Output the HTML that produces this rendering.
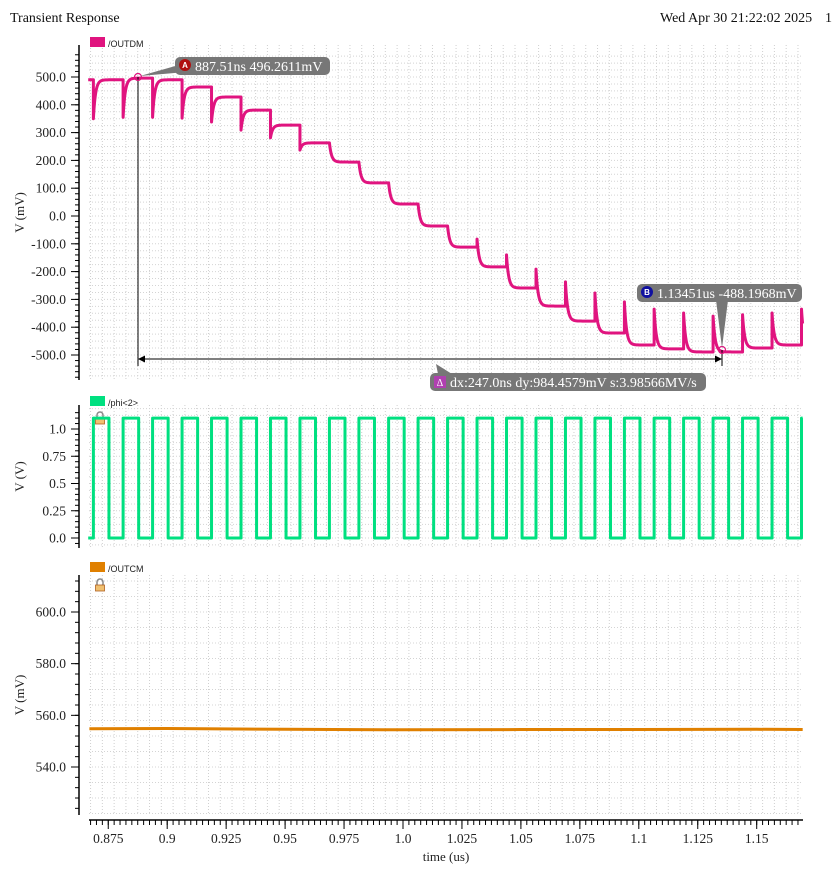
<!DOCTYPE html>
<html><head><meta charset="utf-8"><style>
html,body{margin:0;padding:0;background:#fff;}
svg{display:block;font-family:"Liberation Serif",serif;}
.lg{font-family:"Liberation Sans",sans-serif;font-size:9px;fill:#222;}
.tk{font-size:13.5px;fill:#222;}
</style></head><body>
<svg id="chart" width="835" height="869" viewBox="0 0 835 869" xmlns="http://www.w3.org/2000/svg">
<text x="10" y="22" font-size="14" fill="#111">Transient Response</text>
<text x="660" y="22" font-size="14" fill="#111">Wed Apr 30 21:22:02 2025</text>
<text x="825" y="22" font-size="14" fill="#111">1</text>
<g id="grid"></g>
<g id="axes"></g>
<g id="series"></g>
<g id="cursors"></g>
</svg>
<script>
// ---- data ----
const eventTimes = [0.8687,0.8813,0.8938,0.9063,0.9188,0.9313,0.9438,0.9563,0.9688,0.9813,0.9939,1.0064,1.0189,1.0314,1.0439,1.0564,1.0689,1.0814,1.0939,1.1065,1.1190,1.1315,1.1440,1.1565,1.1690];
const outdmStart = 490;
const outdmLevels = [490,496,490,464,428,381,327,263,194,119,43,-36,-112,-183,-259,-324,-378,-421,-464,-478,-489,-489,-475,-464,-464];
const outdmSpikes = [350,355,355,352,338,309,281,237,263,194,119,43,-36,-83,-140,-191,-237,-277,-309,-335,-349,-360,-355,-349,-335];
const phiHigh = 1.1, phiLow = 0.0, phiWidth = 0.0066;
const outcmTimes = [0.867,0.9,0.95,1.0,1.05,1.1,1.15,1.17];
const outcmValues = [554.8,554.9,554.6,554.4,554.5,554.5,554.6,554.5];
const xTicks = [0.875,0.9,0.925,0.95,0.975,1.0,1.025,1.05,1.075,1.1,1.125,1.15];
const xTickLabels = ["0.875","0.9","0.925","0.95","0.975","1.0","1.025","1.05","1.075","1.1","1.125","1.15"];
const topTicks = [500,400,300,200,100,0,-100,-200,-300,-400,-500];
const topTickLabels = ["500.0","400.0","300.0","200.0","100.0","0.0","-100.0","-200.0","-300.0","-400.0","-500.0"];
const midTicks = [1.0,0.75,0.5,0.25,0.0];
const midTickLabels = ["1.0","0.75","0.5","0.25","0.0"];
const botTicks = [600,580,560,540];
const botTickLabels = ["600.0","580.0","560.0","540.0"];

const NS="http://www.w3.org/2000/svg";
const X0=79, X1=803, TMIN=0.8665, TMAX=1.1695;
const xs = t => 403 + (t-1.0)*2358;
const yTop = v => 216 - v*0.278;
const yMid = v => 538 - v*109;
const yBot = v => 767 - (v-540)*2.5835;
function mk(tag, attrs, parent){const e=document.createElementNS(NS,tag);for(const k in attrs)e.setAttribute(k,attrs[k]);parent.appendChild(e);return e;}
const grid=document.getElementById('grid'), axes=document.getElementById('axes'), ser=document.getElementById('series'), cur=document.getElementById('cursors');

const panels=[
 {top:45,bot:380,map:yTop,ticks:topTicks,labels:topTickLabels,minor:20,gstep:25,vmin:-620,vmax:580,title:"V (mV)",name:"outdm"},
 {top:405,bot:548,map:yMid,ticks:midTicks,labels:midTickLabels,minor:0.05,gstep:0.0625,vmin:-0.1,vmax:1.2,title:"V (V)",name:"phi"},
 {top:575,bot:815,map:yBot,ticks:botTicks,labels:botTickLabels,minor:4,gstep:6,vmin:522,vmax:616,title:"V (mV)",name:"outcm"}
];
panels.forEach(p=>{
  const g=mk('g',{},grid);
  
  
  for(let t=0.8675;t<TMAX;t+=0.005){const x=xs(t);mk('line',{x1:x,x2:x,y1:p.top,y2:p.bot,stroke:'#cfcfcf','stroke-width':1,'stroke-dasharray':'1,2'},g);}
  for(let v=Math.ceil(p.vmin/p.gstep)*p.gstep;v<=p.vmax;v+=p.gstep){const y=p.map(v);if(y<p.top||y>p.bot)continue;mk('line',{x1:X0+10,x2:X1,y1:y,y2:y,stroke:'#d4d4d4','stroke-width':1,'stroke-dasharray':'1,2'},g);}
  const a=mk('g',{},axes);
  
  
  mk('line',{x1:X0,x2:X0,y1:p.top,y2:p.bot,stroke:'#000','stroke-width':1.5},a);
  for(let v=Math.ceil(p.vmin/p.minor)*p.minor;v<=p.vmax;v+=p.minor){const y=p.map(v);if(y<p.top||y>p.bot)continue;mk('line',{x1:X0-4,x2:X0,y1:y,y2:y,stroke:'#000','stroke-width':1},a);}
  p.ticks.forEach((v,i)=>{const y=p.map(v);mk('line',{x1:X0-8,x2:X0,y1:y,y2:y,stroke:'#000','stroke-width':1},a);
    const t=mk('text',{x:X0-13,y:y+4.5,'text-anchor':'end',class:'tk'},a);t.textContent=p.labels[i];});
  const tt=mk('text',{x:0,y:0,transform:`translate(24,${(p.top+p.bot)/2}) rotate(-90)`,'text-anchor':'middle','font-size':13,fill:'#222'},a);
  tt.textContent=p.title;
  
  
});
// x axis
const xa=mk('g',{},axes);


mk('line',{x1:89,x2:X1,y1:820,y2:820,stroke:'#000','stroke-width':1.5},xa);
for(let t=0.8675;t<TMAX;t+=0.0025){const x=xs(t);mk('line',{x1:x,x2:x,y1:820,y2:825,stroke:'#000','stroke-width':1},xa);}
xTicks.forEach((t,i)=>{const x=xs(t);mk('line',{x1:x,x2:x,y1:820,y2:829,stroke:'#000','stroke-width':1},xa);
  const tx=mk('text',{x:x,y:843,'text-anchor':'middle',class:'tk'},xa);tx.textContent=xTickLabels[i];});
const xt=mk('text',{x:446,y:861,'text-anchor':'middle','font-size':13,fill:'#222'},xa);
xt.textContent='time (us)';



// legends
[[37,'#e0147f','/OUTDM','legend-outdm'],[396,'#00e080','/phi<2>','legend-phi'],[562,'#e08000','/OUTCM','legend-outcm']].forEach(l=>{
  const g=mk('g',{},axes);
  
  
  mk('rect',{x:90,y:l[0],width:15,height:10,fill:l[1]},g);
  const t=mk('text',{x:108,y:l[0]+10,class:'lg'},g);t.textContent=l[2];
});
// lock icons
[[413,'lock-phi'],[580,'lock-outcm']].forEach(l=>{
  const g=mk('g',{},axes);
  
  
  mk('path',{d:`M97 ${l[0]+5} v-3 a3 3 0 0 1 6 0 v3`,fill:'none',stroke:'#888','stroke-width':1.5},g);
  mk('rect',{x:95.5,y:l[0]+5,width:9,height:6,fill:'#f0c070',stroke:'#b06020','stroke-width':0.8},g);
});

// series
function outdm(t){let k=-1;for(let i=0;i<eventTimes.length;i++){if(eventTimes[i]<=t)k=i;}
  if(k<0)return outdmStart;const dt=t-eventTimes[k];return outdmLevels[k]+(outdmSpikes[k]-outdmLevels[k])*Math.exp(-dt/0.0009);}
let d='';
for(let t=0.8665;t<=TMAX;t+=0.00008){d+=(d?'L':'M')+xs(t).toFixed(2)+' '+yTop(outdm(t)).toFixed(2);
  eventTimes.forEach(e=>{if(e>t&&e<=t+0.00008){d+='L'+xs(e).toFixed(2)+' '+yTop(outdm(e-1e-9)).toFixed(2)+'L'+xs(e).toFixed(2)+' '+yTop(outdm(e)).toFixed(2);}});}
const p1=mk('path',{d:d,fill:'none',stroke:'#e0147f','stroke-width':3,'stroke-linejoin':'round'},ser);



let d2='M'+xs(0.8665)+' '+yMid(phiLow);
eventTimes.forEach(e=>{const f=Math.min(e+phiWidth,TMAX);
  d2+='L'+xs(e).toFixed(2)+' '+yMid(phiLow)+'L'+xs(e).toFixed(2)+' '+yMid(phiHigh)+'L'+xs(f).toFixed(2)+' '+yMid(phiHigh);
  if(e+phiWidth<TMAX)d2+='L'+xs(f).toFixed(2)+' '+yMid(phiLow);});
const p2=mk('path',{d:d2,fill:'none',stroke:'#00e080','stroke-width':3,'stroke-linejoin':'round'},ser);



let d3='';outcmTimes.forEach((t,i)=>{d3+=(i?'L':'M')+xs(Math.min(t,TMAX)).toFixed(2)+' '+yBot(outcmValues[i]).toFixed(2);});
const p3=mk('path',{d:d3,fill:'none',stroke:'#e08000','stroke-width':3},ser);



// cursors
const ax=138, ay=77, bx=722, by=350;
mk('line',{x1:ax,x2:ax,y1:ay,y2:366,stroke:'#000','stroke-width':1},cur);
mk('line',{x1:bx,x2:bx,y1:by,y2:366,stroke:'#000','stroke-width':1},cur);
mk('line',{x1:ax+4,x2:bx-4,y1:359,y2:359,stroke:'#000','stroke-width':1},cur);
mk('path',{d:`M${ax} 359 l7 -3.5 v7 z M${bx} 359 l-7 -3.5 v7 z`,fill:'#000'},cur);
mk('circle',{cx:ax,cy:ay,r:3.5,fill:'none',stroke:'#e0147f','stroke-width':1.2},cur);
mk('circle',{cx:bx,cy:by,r:3.5,fill:'none',stroke:'#e0147f','stroke-width':1.2},cur);
function bubble(name,x,y,w,ptr,badge,bcol,txt){
  const g=mk('g',{},cur);
  
  
  mk('path',{d:ptr,fill:'#777'},g);
  mk('rect',{x:x,y:y,width:w,height:18,rx:5,fill:'#777'},g);
  if(bcol==='tri'){mk('rect',{x:x+4,y:y+3,width:12,height:12,fill:'#b040b0'},g);const bt=mk('text',{x:x+10,y:y+13,'text-anchor':'middle','font-size':10,fill:'#fff'},g);bt.textContent=badge;}
  else{mk('circle',{cx:x+10,cy:y+8,r:6,fill:bcol},g);const bt=mk('text',{x:x+10,y:y+11,'text-anchor':'middle','font-size':8,'font-weight':'bold',fill:'#fff','font-family':'Liberation Sans, sans-serif'},g);bt.textContent=badge;}
  const t=mk('text',{x:x+20,y:y+14,'font-size':14,fill:'#fff'},g);t.textContent=txt;
}
bubble('cursor-a-label',175,57,155,`M${ax+2} ${ay-1} L186 63 L186 72 Z`,'A','#b01010','887.51ns 496.2611mV');
bubble('cursor-b-label',637,284,165,`M716 300 L${bx} ${by-2} L728 300 Z`,'B','#1010a0','1.13451us -488.1968mV');
bubble('delta-label',430,373,276,`M436 364 L452 374 L438 374 Z`,'Δ','tri','dx:247.0ns dy:984.4579mV s:3.98566MV/s');
</script>
</body></html>
